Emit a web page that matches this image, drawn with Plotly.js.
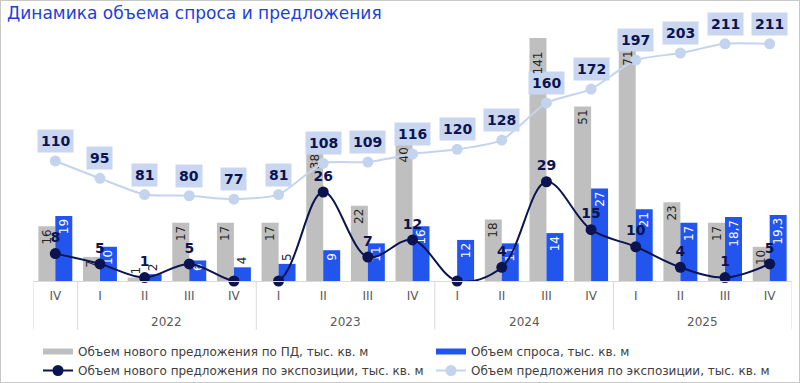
<!DOCTYPE html>
<html><head><meta charset="utf-8">
<script src="https://cdn.plot.ly/plotly-3.0.1.min.js"></script>
<style>html,body{margin:0;padding:0;background:#fff}#c{width:800px;height:383px;box-sizing:border-box;border:1px solid #c8c8c8}</style>
</head><body><div id="c"></div>
<script>
const years = ['', '2022','2022','2022','2022','2023','2023','2023','2023','2024','2024','2024','2024','2025','2025','2025','2025'];
const quarters = ['IV','I','II','III','IV','I','II','III','IV','I','II','III','IV','I','II','III','IV'];
const newSupplyPD = [16,7,1,17,17,17,38,22,40,null,18,141,51,71,23,17,10];
const demand = [19,10,2,6,4,5,9,11,16,12,11,14,27,21,17,18.7,19.3];
const newSupplyExpo = [8,5,1,5,0,0,26,7,12,0,4,29,15,10,4,1,5];
const supplyExpo = [110,95,81,80,77,81,108,109,116,120,128,160,172,197,203,211,211];
const seriesNames = [
  'Объем нового предложения по ПД, тыс. кв. м',
  'Объем спроса, тыс. кв. м',
  'Объем нового предложения по экспозиции, тыс. кв. м',
  'Объем предложения по экспозиции, тыс. кв. м'
];

const YMAX = 71;
const BARGAP = 0.24;
const fmt = v => (v === null || v === undefined) ? '' : String(v).replace('.', ',');
const pos = v => v === null ? 'none' : (v >= YMAX ? 'none' : (v < 6 ? 'outside' : 'inside'));
const x = quarters.map((_, i) => i);
const NAVY = '#0b1450';
const GRAY = '#bfbfbf', BLUE = '#2155ee', LIGHT = '#c5d4ee';
const VF = '"DejaVu Sans", Verdana, sans-serif';

const traces = [
  {type:'bar', name:seriesNames[0], x:x, y:newSupplyPD, marker:{color:GRAY}, showlegend:false,
   text:newSupplyPD.map(fmt), textposition:newSupplyPD.map(pos), textangle:-90, insidetextanchor:'end',
   constraintext:'none', insidetextfont:{family:VF, size:12, color:'#262626'}, outsidetextfont:{family:VF, size:12, color:'#262626'}, hoverinfo:'skip'},
  {type:'bar', name:seriesNames[1], x:x, y:demand, marker:{color:BLUE}, showlegend:false,
   text:demand.map(fmt), textposition:demand.map(pos), textangle:-90, insidetextanchor:'end',
   constraintext:'none', insidetextfont:{family:VF, size:12, color:'#ffffff'}, outsidetextfont:{family:VF, size:12, color:'#262626'}, hoverinfo:'skip'},
  {type:'scatter', name:seriesNames[2], x:x, y:newSupplyExpo, mode:'lines+markers+text', legend:'legend', legendrank:2,
   line:{color:NAVY, width:2, shape:'spline', smoothing:1}, marker:{color:NAVY, size:11},
   text:newSupplyExpo.map(v => v === 0 ? '' : String(v)), textposition:'top center',
   textfont:{family:VF, size:14, color:NAVY, weight:'bold'}, cliponaxis:false, hoverinfo:'skip'},
  {type:'scatter', name:seriesNames[3], x:x, y:supplyExpo, yaxis:'y2', mode:'lines+markers', legend:'legend2', legendrank:2,
   line:{color:LIGHT, width:2, shape:'spline', smoothing:0.6}, marker:{color:LIGHT, size:11},
   cliponaxis:false, hoverinfo:'skip'},
  // legend swatches for the bar series
  {type:'scatter', name:seriesNames[0], x:[null], y:[null], mode:'lines', line:{color:GRAY, width:6}, legend:'legend', legendrank:1, hoverinfo:'skip'},
  {type:'scatter', name:seriesNames[1], x:[null], y:[null], mode:'lines', line:{color:BLUE, width:6}, legend:'legend2', legendrank:1, hoverinfo:'skip'}
];

const annotations = supplyExpo.map((v, i) => ({
  x:x[i], y:v, xref:'x', yref:'y2', text:String(v), showarrow:false, yshift:20,
  bgcolor:'#c9d6ef', borderpad:3, font:{family:VF, size:14, color:NAVY, weight:'bold'}
}));

// labels for grey bars that reach the top of the plot: put them inside the visible part
const barOffset = (1 - BARGAP) / 4;
newSupplyPD.forEach((v, i) => {
  if (v !== null && v >= YMAX) {
    annotations.push({x:x[i] - barOffset, y:YMAX, xref:'x', yref:'y', text:fmt(v), textangle:-90,
      showarrow:false, yanchor:'top', yshift:-11, font:{family:VF, size:12, color:'#262626'}});
  }
});

// year group labels and dividers, derived from the years array
const shapes = [];
let start = 0;
for (let i = 1; i <= years.length; i++) {
  if (i === years.length || years[i] !== years[start]) {
    if (years[start]) {
      annotations.push({x:(start + i - 1) / 2, y:-0.169, xref:'x', yref:'paper', text:years[start],
        showarrow:false, yanchor:'middle', font:{family:VF, size:12, color:'#595959'}});
    }
    shapes.push({type:'line', xref:'x', yref:'paper', x0:start - 0.5, x1:start - 0.5, y0:0, y1:-0.2,
      line:{color:'#d9d9d9', width:1}});
    start = i;
  }
}
shapes.push({type:'line', xref:'x', yref:'paper', x0:years.length - 0.5, x1:years.length - 0.5, y0:0, y1:-0.2,
  line:{color:'#d9d9d9', width:1}});

const legendCommon = {orientation:'v', xanchor:'left', yanchor:'top', xref:'container', yref:'container',
  font:{family:VF, size:12, color:'#404040'}, traceorder:'normal', bgcolor:'rgba(0,0,0,0)', itemwidth:30};

const layout = {
  width:798, height:381,
  margin:{l:32, r:7, t:37, b:101, autoexpand:false},
  paper_bgcolor:'#ffffff', plot_bgcolor:'#ffffff',
  title:{text:'Динамика объема спроса и предложения', x:6/798, xanchor:'left', xref:'container',
         y:1-6/381, yanchor:'top', yref:'container', font:{family:VF, size:17, color:'#1d3fd6'}},
  barmode:'group', bargap:BARGAP, bargroupgap:0,
  showlegend:true,
  legend:Object.assign({}, legendCommon, {x:37/798, y:1-336/381}),
  legend2:Object.assign({}, legendCommon, {x:430/798, y:1-336/381}),
  xaxis:{range:[-0.5, quarters.length - 0.5], tickvals:x, ticktext:quarters, showline:true,
         linecolor:'#d9d9d9', linewidth:1, ticks:'', showgrid:false, zeroline:false,
         ticklabelstandoff:4, tickfont:{family:VF, size:12, color:'#595959'}, fixedrange:true},
  yaxis:{range:[0,YMAX], visible:false, showgrid:false, zeroline:false, fixedrange:true},
  yaxis2:{range:[6.5,216], overlaying:'y', visible:false, showgrid:false, zeroline:false, fixedrange:true},
  annotations:annotations,
  shapes:shapes
};

Plotly.newPlot('c', traces, layout, {displayModeBar:false, staticPlot:true});
</script></body></html>
